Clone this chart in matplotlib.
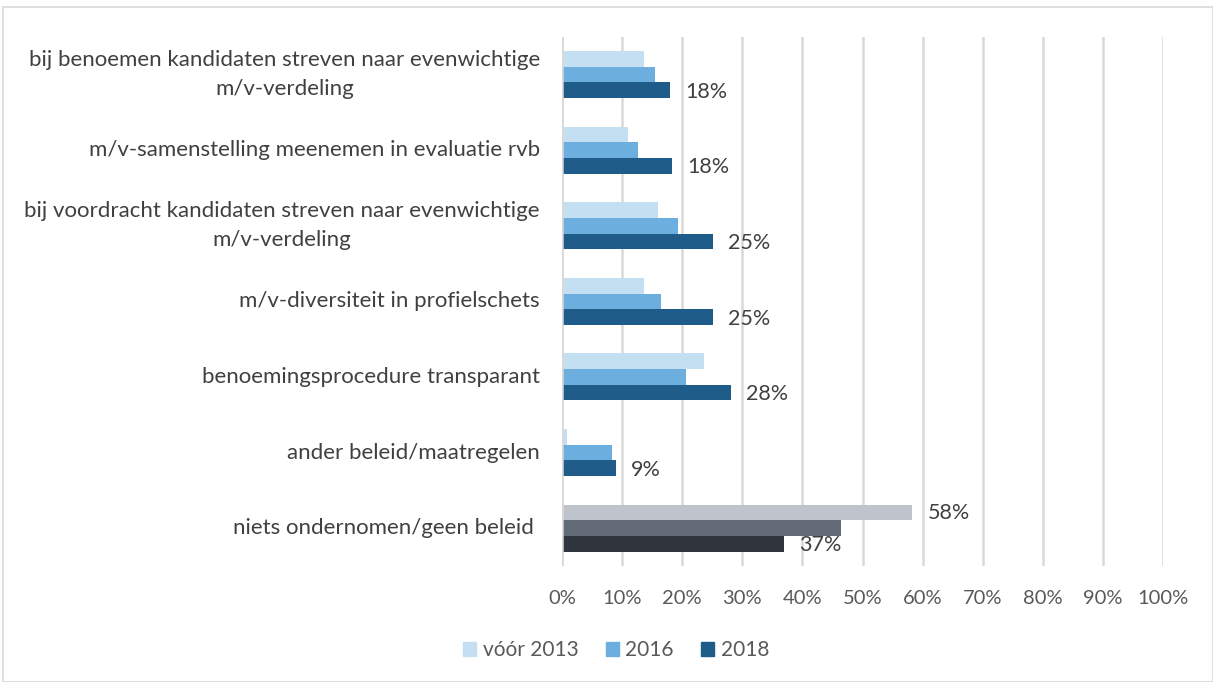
import matplotlib
matplotlib.use("Agg")
import matplotlib.pyplot as plt
import matplotlib.transforms as mtransforms
import numpy as np
from matplotlib.patches import Rectangle

plt.rcParams['font.family'] = ['Lato', 'DejaVu Sans']

categories = [
    "bij benoemen kandidaten streven naar evenwichtige\nm/v-verdeling",
    "m/v-samenstelling meenemen in evaluatie rvb",
    "bij voordracht kandidaten streven naar evenwichtige\nm/v-verdeling",
    "m/v-diversiteit in profielschets",
    "benoemingsprocedure transparant",
    "ander beleid/maatregelen",
    "niets ondernomen/geen beleid ",
]
series_names = ["vóór 2013", "2016", "2018"]
v2013 = [13.6, 11.0, 16.0, 13.6, 23.6, 0.9, 58.3]
v2016 = [15.5, 12.6, 19.3, 16.4, 20.6, 8.3, 46.4]
v2018 = [18.0, 18.3, 25.1, 25.1, 28.1, 9.0, 36.9]
labels2018 = ["18%", "18%", "25%", "25%", "28%", "9%", "37%"]
label2013_last = "58%"
xticks = list(range(0, 101, 10))

blues = ["#C5DFF2", "#6CAEDD", "#1F5C8A"]
greys = ["#BFC3CB", "#636B77", "#30343D"]

fig = plt.figure(figsize=(12.13, 6.82), dpi=100)
W, H = 1213, 682
ax = fig.add_axes([562 / W, 1 - 566 / H, (1163 - 562) / W, (566 - 36.7) / H])

n = len(categories)
ypos = np.arange(n)
bh = 0.207
offsets = [-bh, 0, bh]
allv = [v2013, v2016, v2018]
for s in range(3):
    for i in range(n):
        col = greys[s] if i == n - 1 else blues[s]
        ax.barh(ypos[i] + offsets[s], allv[s][i], height=bh, color=col, zorder=3)

for i in range(n):
    ax.text(v2018[i] + 2.5, ypos[i] + bh + 0.02, labels2018[i], va='center', ha='left',
            fontsize=15.5, color='#404040')
ax.text(v2013[-1] + 2.5, ypos[-1] - bh, label2013_last, va='center', ha='left',
        fontsize=15.5, color='#404040')

ax.set_xlim(0, 100)
ax.set_ylim(n - 0.5, -0.5)
ax.set_xticks(xticks)
ax.set_xticklabels([f"{t}%" for t in xticks], fontsize=14.5, color='#595959')
ax.set_yticks(ypos)
ax.set_yticklabels([])
ax.tick_params(axis='both', length=0)
ax.tick_params(axis='x', pad=17)

# category labels
for i, cat in enumerate(categories):
    tr = ax.get_yaxis_transform() + mtransforms.ScaledTranslation(-22 / 100, 0,
                                                                   fig.dpi_scale_trans)
    ax.text(0, ypos[i], cat, transform=tr, ha='right', va='center', fontsize=16,
            color='#404040', multialignment='center', linespacing=1.55)

ax.grid(axis='x', color='#D9D9D9', linewidth=1.8, zorder=0)
for sp in ax.spines.values():
    sp.set_visible(False)
ax.axvline(0, color='#D9D9D9', linewidth=1.8, zorder=4)

# legend
handles = [Rectangle((0, 0), 1, 1, color=c) for c in blues]
fig.legend(handles, series_names, loc='center', bbox_to_anchor=(616 / W, 1 - 650 / H),
           ncol=3, frameon=False, fontsize=15, handlelength=0.65, handleheight=0.65,
           handletextpad=0.3, columnspacing=1.3, labelcolor='#595959')

# outer frame
fig.patches.append(Rectangle((3 / W, 0), (W - 3) / W, 1 - 7 / H, transform=fig.transFigure,
                             fill=False, edgecolor='#D9D9D9', linewidth=1.2))

fig.savefig("out.png", dpi=100)
